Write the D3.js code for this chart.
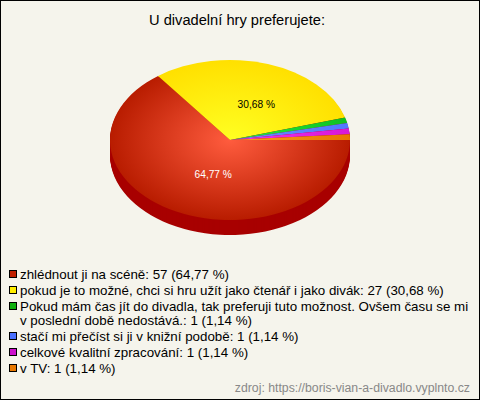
<!DOCTYPE html>
<html><head><meta charset="utf-8">
<script src="https://cdn.jsdelivr.net/npm/d3@7"></script>
<style>html,body{margin:0;padding:0;background:#fff}svg{display:block}text{font-family:"Liberation Sans",Arial,sans-serif}</style>
</head><body><svg id="c" width="480" height="400"></svg>
<script>
const title = "U divadelní hry preferujete:";
const values = [57, 27, 1, 1, 1, 1];
const percents = ["64,77 %", "30,68 %", "1,14 %", "1,14 %", "1,14 %", "1,14 %"];
const showLabel = [true, true, false, false, false, false];
const labelColors = ["#fff", "#000"];
const innerColors = ["#ff5c3e", "#ffff22", "#22ee44", "#6a8aff", "#ee33ee", "#ff9922"];
const outerColors = ["#b81c00", "#ffe000", "#10c020", "#5078ff", "#d818d8", "#e87800"];
const swatchColors = ["#c02000", "#ffee00", "#10b010", "#4a70ff", "#cc10cc", "#e87800"];
const legendLines = [
  [0, "zhlédnout ji na scéně: 57 (64,77 %)"],
  [1, "pokud je to možné, chci si hru užít jako čtenář i jako divák: 27 (30,68 %)"],
  [2, "Pokud mám čas jít do divadla, tak preferuji tuto možnost. Ovšem času se mi"],
  [null, "v poslední době nedostává.: 1 (1,14 %)"],
  [3, "stačí mi přečíst si ji v knižní podobě: 1 (1,14 %)"],
  [4, "celkové kvalitní zpracování: 1 (1,14 %)"],
  [5, "v TV: 1 (1,14 %)"]
];
const source = "zdroj: https://boris-vian-a-divadlo.vyplnto.cz";

const svg = d3.select("#c");
svg.append("rect").attr("x",0.5).attr("y",0.5).attr("width",479).attr("height",399)
  .attr("fill","#f5f4ec").attr("stroke","#000");

svg.append("text").attr("x",237).attr("y",25).attr("text-anchor","middle")
  .attr("font-size",14.67).attr("fill","#000").text(title);

const cx=230, cy=140, rx=120, ry=80, depth=15, yScale=ry/rx;
const defs = svg.append("defs");
innerColors.forEach((c,i)=>{
  const g = defs.append("radialGradient").attr("id","g"+i).attr("gradientUnits","userSpaceOnUse")
    .attr("cx",0).attr("cy",0).attr("r",rx);
  g.append("stop").attr("offset","0%").attr("stop-color",c);
  g.append("stop").attr("offset","100%").attr("stop-color",outerColors[i]);
});
// d3 angles are measured from 12 o'clock; the chart starts at 3 o'clock, clockwise
const pie = d3.pie().sort(null).startAngle(Math.PI/2).endAngle(Math.PI/2+2*Math.PI);
const arcs = pie(values);
const arc = d3.arc().innerRadius(0).outerRadius(rx);
const layers = d3.range(depth,0,-1);
svg.append("g").selectAll("g").data(layers).join("g")
  .attr("transform",d=>`translate(${cx},${cy+d}) scale(1,${yScale})`)
  .selectAll("path").data(arcs).join("path").attr("d",arc).attr("fill","#a80000");
const face = svg.append("g").attr("transform",`translate(${cx},${cy}) scale(1,${yScale})`);
face.selectAll("path").data(arcs).join("path").attr("d",arc).attr("fill",(d,i)=>`url(#g${i})`);

const labelArc = d3.arc().innerRadius(rx*0.47).outerRadius(rx*0.47);
svg.append("g").selectAll("text").data(arcs.filter((d,i)=>showLabel[i])).join("text")
  .attr("x",d=>cx+8.5+labelArc.centroid(d)[0]).attr("y",d=>cy+labelArc.centroid(d)[1]*yScale+4)
  .attr("text-anchor","middle").attr("font-size",10.2).attr("fill",(d,i)=>labelColors[i])
  .text((d,i)=>percents[i]);

const lg = svg.append("g");
const rows = legendLines.map((d,i)=>({k:d[0],t:d[1],y:[279,295,311,325,341,357,373][i]}));
lg.selectAll("text").data(rows).join("text").attr("x",20).attr("y",d=>d.y)
  .attr("font-size",13.33).attr("fill","#000").text(d=>d.t);
lg.selectAll("rect").data(rows.filter(d=>d.k!==null)).join("rect")
  .attr("x",9.5).attr("y",d=>d.y-8.5).attr("width",7).attr("height",7)
  .attr("fill",d=>swatchColors[d.k]).attr("stroke","#000");

svg.append("text").attr("x",470).attr("y",392).attr("text-anchor","end")
  .attr("font-size",12.27).attr("fill","#888").text(source);
</script></body></html>
